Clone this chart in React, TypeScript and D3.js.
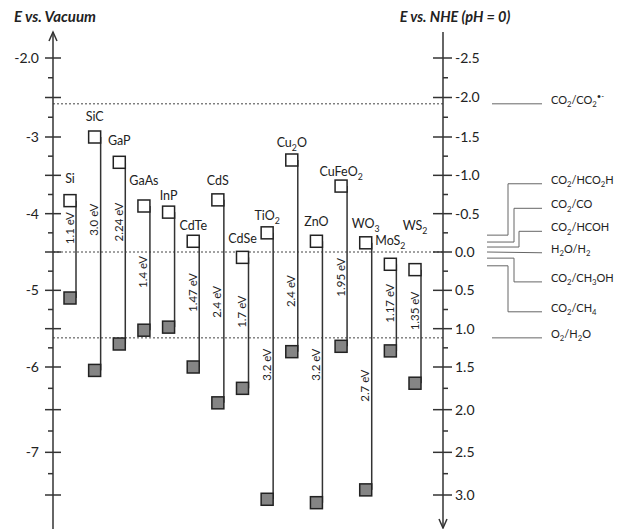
import React from 'react';
import * as d3 from 'd3';

const width = 623;
const height = 529;

// semiconductors, left to right ("_x" = subscript)
const materials = ['Si', 'SiC', 'GaP', 'GaAs', 'InP', 'CdTe', 'CdS', 'CdSe', 'TiO_2', 'Cu_2O', 'ZnO', 'CuFeO_2', 'WO_3', 'MoS_2', 'WS_2'];
// band edges, eV vs vacuum
const conductionBand = [-3.83, -3.0, -3.33, -3.9, -3.98, -4.36, -3.82, -4.57, -4.25, -3.3, -4.36, -3.64, -4.38, -4.66, -4.73];
const valenceBand = [-5.1, -6.04, -5.7, -5.52, -5.48, -6.0, -6.42, -6.25, -7.55, -5.8, -7.59, -5.73, -7.44, -5.79, -6.19];
const bandGapLabels = ['1.1 eV', '3.0 eV', '2.24 eV', '1.4 eV', '', '1.47 eV', '2.4 eV', '1.7 eV', '3.2 eV', '2.4 eV', '3.2 eV', '1.95 eV', '2.7 eV', '1.17 eV', '1.35 eV'];
// where the gap label and the name sit, eV vs vacuum
const bandGapLabelAt = [-4.19, -4.08, -4.11, -4.76, -4.7, -5.03, -5.15, -5.28, -5.97, -5.01, -5.97, -4.83, -6.22, -5.17, -5.27];
const nameAt = [-3.6, -2.8, -3.1, -3.63, -3.82, -4.21, -3.63, -4.38, -4.08, -3.13, -4.16, -3.51, -4.19, -4.41, -4.21];

// redox couples, V vs NHE
const redoxCouples = ['CO_2/CO_2^{•-}', 'CO_2/HCO_2H', 'CO_2/CO', 'CO_2/HCOH', 'H_2O/H_2', 'CO_2/CH_3OH', 'CO_2/CH_4', 'O_2/H_2O'];
const redoxLevel = [-1.92, -0.22, -0.13, -0.065, 0, 0.08, 0.18, 1.12];
const redoxLabelAt = [-1.92, -0.89, -0.57, -0.27, 0.01, 0.39, 0.78, 1.12];
const dottedLevels = [-1.92, 0, 1.12];

// axis ticks
const vacTicks = d3.range(-2, -7.51, -0.25);
const vacLabels = ['-2.0', '-3', '-4', '-5', '-6', '-7'];
const vacLabelValues = [-2, -3, -4, -5, -6, -7];
const nheTicks = d3.range(-2.5, 3.01, 0.25);

// the original axis is drawn slightly unevenly, so a piecewise scale
const yVac = d3.scaleLinear().domain([-2, -3, -6, -7.5]).range([58, 137, 367, 495]);
const yNhe = (v: number) => yVac(-4.5 - v);

const x = d3.scalePoint<string>().domain(materials).range([70, 415]);

const leftAxisX = 53;
const rightAxisX = 443;
const sq = 12;
const font = 'Lato, "Open Sans", sans-serif';
const ink = '#222';

// elbow x for the leader lines of the redox couples (null = straight)
const leaderStartX = [492, 487, 487, 487, 487, 487, 487, 492];
const leaderElbowX = [null, 508, 514, 519, null, 514, 508, null];
const leaderEndX = 542;

function rich(s: string, fs: number) {
  const parts: { t: string; shift: number }[] = [];
  let buf = '';
  let i = 0;
  while (i < s.length) {
    if (s[i] === '_') {
      if (buf) parts.push({ t: buf, shift: 0 });
      buf = '';
      parts.push({ t: s[i + 1], shift: 1 });
      i += 2;
    } else if (s[i] === '^' && s[i + 1] === '{') {
      const j = s.indexOf('}', i);
      if (buf) parts.push({ t: buf, shift: 0 });
      buf = '';
      parts.push({ t: s.slice(i + 2, j), shift: -1 });
      i = j + 1;
    } else {
      buf += s[i];
      i++;
    }
  }
  if (buf) parts.push({ t: buf, shift: 0 });
  let cur = 0;
  return parts.map((p, k) => {
    const target = p.shift === 1 ? fs * 0.3 : p.shift === -1 ? -fs * 0.4 : 0;
    const dy = target - cur;
    cur = target;
    return (
      <tspan key={k} dy={dy} fontSize={p.shift ? fs * 0.7 : fs}>
        {p.t}
      </tspan>
    );
  });
}

export default function App() {
  return (
    <svg width={width} height={height} style={{ position: 'absolute', left: 0, top: 0, background: '#fff' }} fontFamily={font}>
      {/* titles */}
      <text x={14} y={22} fontSize={15} fontWeight="bold" fontStyle="italic" fill={ink}>E vs. Vacuum</text>
      <text x={455} y={22} fontSize={14.5} fontWeight="bold" fontStyle="italic" fill={ink} textAnchor="middle">E vs. NHE (pH = 0)</text>

      {/* dotted reference levels */}
      {dottedLevels.map((v, i) => (
        <line key={i} x1={leftAxisX} x2={rightAxisX} y1={yNhe(v)} y2={yNhe(v)} stroke="#444" strokeWidth={1} strokeDasharray="2,2" />
      ))}

      {/* left axis */}
      <line x1={leftAxisX} x2={leftAxisX} y1={32} y2={height} stroke="#333" strokeWidth={1.5} />
      <path d={`M${leftAxisX - 4},${41} L${leftAxisX},${32} L${leftAxisX + 4},${41}`} fill="none" stroke="#333" strokeWidth={1.5} />
      {vacTicks.map((v, i) => {
        const major = i % 2 === 0;
        return (
          <line key={i} x1={major ? leftAxisX - 8 : leftAxisX - 5} x2={major ? leftAxisX + 8 : leftAxisX} y1={yVac(v)} y2={yVac(v)} stroke="#333" strokeWidth={1.5} />
        );
      })}
      {vacLabels.map((l, i) => (
        <text key={l} x={39} y={yVac(vacLabelValues[i])} dy="0.35em" textAnchor="end" fontSize={14} fill={ink}>{l}</text>
      ))}

      {/* right axis */}
      <line x1={rightAxisX} x2={rightAxisX} y1={32} y2={height - 1} stroke="#333" strokeWidth={1.5} />
      <path d={`M${rightAxisX - 4},${height - 10} L${rightAxisX},${height - 1} L${rightAxisX + 4},${height - 10}`} fill="none" stroke="#333" strokeWidth={1.5} />
      {nheTicks.map((v, i) => {
        const major = i % 2 === 0;
        return (
          <line key={i} x1={major ? rightAxisX - 10 : rightAxisX} x2={major ? rightAxisX + 9 : rightAxisX + 5} y1={yNhe(v)} y2={yNhe(v)} stroke="#333" strokeWidth={1.5} />
        );
      })}
      {nheTicks.filter((_, i) => i % 2 === 0).map((v) => (
        <text key={v} x={455} y={yNhe(v)} dy="0.35em" fontSize={14} fill={ink}>{v.toFixed(1)}</text>
      ))}

      {/* redox couples */}
      {redoxCouples.map((c, i) => {
        const y0 = yNhe(redoxLevel[i]);
        const y1 = yNhe(redoxLabelAt[i]);
        const ex = leaderElbowX[i];
        const d = ex == null
          ? `M${leaderStartX[i]},${y0} L${leaderEndX},${y1}`
          : `M${leaderStartX[i]},${y0} H${ex} V${y1} H${leaderEndX}`;
        return (
          <g key={c}>
            <path d={d} fill="none" stroke="#666" strokeWidth={1} />
            <text x={551} y={y1} dy="0.35em" fontSize={11} fill={ink}>{rich(c, 11)}</text>
          </g>
        );
      })}

      {/* semiconductors */}
      {materials.map((m, i) => {
        const cx = x(m) as number;
        const yc = yVac(conductionBand[i]);
        const yv = yVac(valenceBand[i]);
        return (
          <g key={m}>
            <line x1={cx + sq / 2} x2={cx + sq / 2} y1={yc} y2={yv} stroke="#333" strokeWidth={1.5} />
            <rect x={cx - sq / 2} y={yc - sq / 2} width={sq} height={sq} fill="#fff" stroke="#222" strokeWidth={1.5} />
            <rect x={cx - sq / 2} y={yv - sq / 2} width={sq} height={sq} fill="#858585" stroke="#222" strokeWidth={1.5} />
            <text x={cx} y={yVac(nameAt[i])} textAnchor="middle" fontSize={12.5} fill={ink}>{rich(m, 12.5)}</text>
            {bandGapLabels[i] && (
              <text transform={`translate(${cx - 1},${yVac(bandGapLabelAt[i])}) rotate(-90)`} textAnchor="middle" dominantBaseline="central" fontSize={11.5} fill={ink}>
                {bandGapLabels[i]}
              </text>
            )}
          </g>
        );
      })}
    </svg>
  );
}
